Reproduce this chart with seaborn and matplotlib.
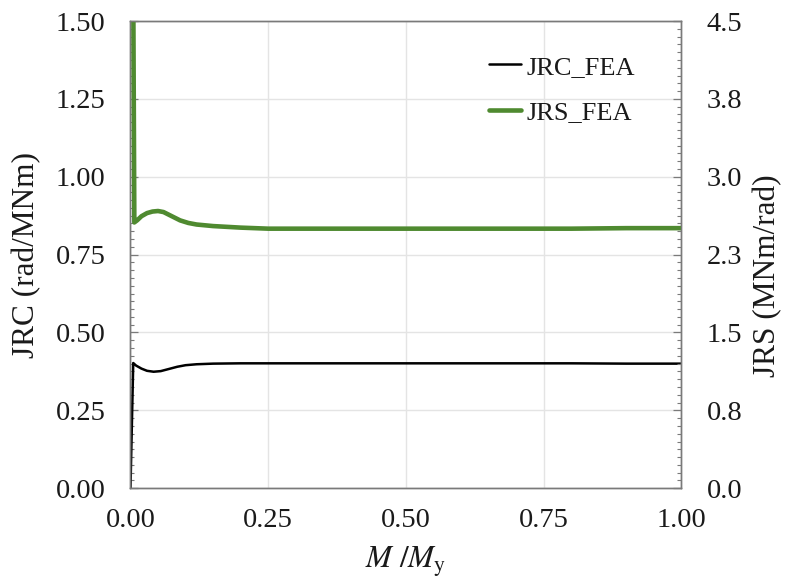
import matplotlib
matplotlib.use("Agg")
import matplotlib.pyplot as plt
from matplotlib.ticker import MultipleLocator
import seaborn as sns
import pandas as pd

# Joint rotational compliance (JRC) and stiffness (JRS) against normalised moment
m_ratio_jrc = [0.0, 0.005, 0.010, 0.020, 0.030, 0.042, 0.055, 0.070, 0.085, 0.100,
               0.120, 0.150, 0.200, 0.250, 0.300, 0.400, 0.500, 0.600, 0.700,
               0.800, 0.900, 1.000]
jrc_fea = [0.0, 0.402, 0.394, 0.384, 0.377, 0.374, 0.376, 0.383, 0.390, 0.395,
           0.398, 0.400, 0.401, 0.401, 0.401, 0.401, 0.401, 0.401, 0.401,
           0.401, 0.400, 0.400]

m_ratio_jrs = [0.004, 0.007, 0.012, 0.020, 0.030, 0.040, 0.050, 0.060, 0.075,
               0.090, 0.105, 0.120, 0.150, 0.200, 0.250, 0.300, 0.400, 0.500,
               0.600, 0.700, 0.800, 0.900, 1.000]
jrs_fea = [6.0, 2.56, 2.58, 2.62, 2.65, 2.665, 2.67, 2.66, 2.62,
           2.58, 2.555, 2.54, 2.525, 2.51, 2.50, 2.50, 2.50, 2.50,
           2.50, 2.50, 2.50, 2.505, 2.505]

x_ticks = [0.0, 0.25, 0.50, 0.75, 1.00]
x_tick_labels = ["0.00", "0.25", "0.50", "0.75", "1.00"]
jrc_ticks = [0.0, 0.25, 0.50, 0.75, 1.00, 1.25, 1.50]
jrc_tick_labels = ["0.00", "0.25", "0.50", "0.75", "1.00", "1.25", "1.50"]
jrs_ticks = [0.0, 0.75, 1.50, 2.25, 3.00, 3.75, 4.50]
jrs_tick_labels = ["0.0", "0.8", "1.5", "2.3", "3.0", "3.8", "4.5"]

sns.set_theme(style="white")
plt.rcParams["font.family"] = ["Liberation Serif", "DejaVu Serif"]
plt.rcParams["mathtext.fontset"] = "stix"

text_color = "#1a1a1a"
frame_color = "#7a7a7a"
green = "#4f8a30"
tick_fs = 20.5
label_fs = 22.5
legend_fs = 19

df_jrc = pd.DataFrame({"M/My": m_ratio_jrc, "JRC": jrc_fea})
df_jrs = pd.DataFrame({"M/My": m_ratio_jrs, "JRS": jrs_fea})

fig = plt.figure(figsize=(7.86, 5.84), dpi=100)
ax = fig.add_axes([0.166, 0.164, 0.701, 0.800])
ax2 = ax.twinx()

sns.lineplot(data=df_jrc, x="M/My", y="JRC", ax=ax, color="black",
             linewidth=1.8, label="JRC_FEA", legend=False, sort=False)
sns.lineplot(data=df_jrs, x="M/My", y="JRS", ax=ax2, color=green,
             linewidth=3.3, label="JRS_FEA", legend=False, sort=False)

ax.set_xlim(0, 1)
ax.set_ylim(0, 1.5)
ax2.set_ylim(0, 4.5)

ax.set_xticks(x_ticks, x_tick_labels)
ax.set_yticks(jrc_ticks, jrc_tick_labels)
ax2.set_yticks(jrs_ticks, jrs_tick_labels)
ax.xaxis.set_minor_locator(MultipleLocator(0.05))
ax.yaxis.set_minor_locator(MultipleLocator(0.025))
ax2.yaxis.set_minor_locator(MultipleLocator(0.075))

ax.grid(True, which="major", color="#e4e4e4", linewidth=1.0)
ax.set_axisbelow(True)

for a in (ax, ax2):
    for s in a.spines.values():
        s.set_color(frame_color)
        s.set_linewidth(1.0)
ax.tick_params(axis="both", which="both", direction="in", colors=frame_color,
               labelcolor=text_color, labelsize=tick_fs, top=False, right=False)
ax.tick_params(which="major", length=6, width=0.9)
ax.tick_params(which="minor", length=3, width=0.8)
ax.tick_params(axis="x", which="major", pad=14)
ax.tick_params(axis="y", which="major", pad=18)
ax2.tick_params(axis="y", which="both", direction="in", colors=frame_color,
                labelcolor=text_color, labelsize=tick_fs)
ax2.tick_params(which="major", length=6, width=0.9, pad=18)
ax2.tick_params(which="minor", length=3, width=0.8)

ax.set_xlabel(r"$M\ /M_{\mathrm{y}}$", fontsize=label_fs, color=text_color, labelpad=9)
ax.set_ylabel("JRC (rad/MNm)", fontsize=label_fs, color=text_color, labelpad=10)
ax2.set_ylabel("JRS (MNm/rad)", fontsize=label_fs, color=text_color)
ax2.yaxis.set_label_coords(1.129, 0.455)

h1, l1 = ax.get_legend_handles_labels()
h2, l2 = ax2.get_legend_handles_labels()
leg = ax2.legend(h1 + h2, l1 + l2, loc="upper right", bbox_to_anchor=(0.958, 0.978),
                 frameon=False, fontsize=legend_fs, handlelength=1.2,
                 handletextpad=0.2, labelspacing=0.85)
for t in leg.get_texts():
    t.set_color(text_color)

fig.savefig("out.png", dpi=100)
